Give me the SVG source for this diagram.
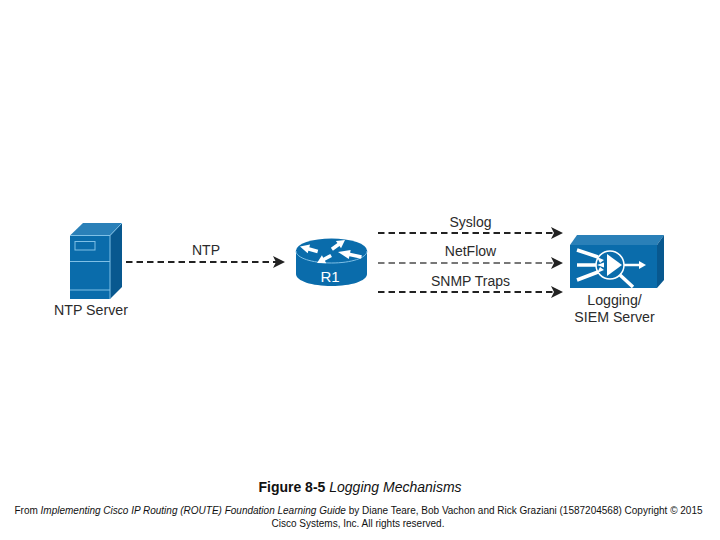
<svg xmlns="http://www.w3.org/2000/svg" width="720" height="540" viewBox="0 0 720 540">
<style>
text{font-family:"Liberation Sans",Arial,sans-serif;fill:#2b2b2b}
.lb{font-size:14px;text-anchor:middle}
.cap{font-size:10px;text-anchor:middle;fill:#111}
.d{stroke:#222;stroke-width:2;stroke-dasharray:6.5 4;fill:none}
.g{stroke:#777}
.ah{fill:#222}
.f{fill:#0a6cab}.t{fill:#2a80b8}.s{fill:#08588f}
.w{fill:#fff;stroke:none}
.wl{stroke:#fff;fill:none}
.sl{stroke:#7fc0e6;fill:none}
</style>
<defs>
<path id="ra" d="M0 0L-8-4.500V-1.800H-16V1.800H-8V4.500Z" class="w"/>
</defs>
<rect width="720" height="540" fill="#fff"/>
<g id="connectors">
<path class="d" d="M126 262H276"/><path class="ah" d="M273 256L285 262L273 268L276 262Z"/>
<path class="d" d="M378 233H554"/><path class="ah" d="M551 227L563 233L551 239L554 233Z"/>
<path class="d g" d="M378 263H554"/><path class="ah" d="M551 257L563 263L551 269L554 263Z"/>
<path class="d" d="M378 292H554"/><path class="ah" d="M551 286L563 292L551 298L554 292Z"/>
<text class="lb" x="206" y="255">NTP</text>
<text class="lb" x="470.500" y="227">Syslog</text>
<text class="lb" x="470.500" y="256">NetFlow</text>
<text class="lb" x="470.500" y="286">SNMP Traps</text>
</g>
<g id="ntp-server">
<path class="t" d="M70 235.500L83 223H122L110 235.500Z"/>
<path class="s" d="M110 235.500L122 223V287L110 299Z"/>
<rect class="f" x="70" y="235.500" width="40" height="63.500"/>
<path class="sl" d="M70 235.500H110L122 223M110 235.500V299M70 261.500H110M70 290H110" stroke-width="1"/>
<rect class="sl" x="75" y="241.500" width="20" height="8.500" stroke-width="1"/>
<text class="lb" x="91" y="315" style="font-size:14.200px">NTP Server</text>
</g>
<g id="r1">
<path class="f" d="M296 250V274C296 281 312 286 331.500 286S367 281 367 274V250Z"/>
<ellipse class="f" cx="331.500" cy="250.500" rx="35.500" ry="12"/>
<path class="sl" d="M296 251C296 258 312 263 331.500 263S367 258 367 251" stroke-width="1"/>
<use href="#ra" transform="translate(300 246.500) rotate(195.500) scale(1.150 1)"/>
<use href="#ra" transform="translate(345 240) rotate(-35)"/>
<use href="#ra" transform="translate(338 252) rotate(192) scale(1.500 1)"/>
<use href="#ra" transform="translate(317 263) rotate(152)"/>
<text x="330" y="281.500" text-anchor="middle" style="font-size:15px;fill:#fff">R1</text>
</g>
<g id="logging-siem-server">
<path class="t" d="M570 245L577 235H664L657 245Z"/>
<path class="s" d="M657 245L664 235V280L657 288Z"/>
<rect class="f" x="570" y="245" width="87" height="43"/>
<path class="wl" stroke-width="3.500" d="M577 250L598 257M577 265H597M577 280L598 272M620 275L633 287"/>
<path class="wl" stroke-width="2.500" d="M622 265H640"/>
<path class="w" d="M639 261L646 265L639 269Z"/>
<circle cx="610" cy="265" r="14" fill="#0a6cab" stroke="#fff" stroke-width="1.500"/>
<path class="w" d="M607 254L622 265L607 276Z"/>
<path class="w" d="M597 257L604 260L600 263ZM597 265L604 262.500V267.500ZM597 273L604 270L600 267Z"/>
<text class="lb" x="614.500" y="305" style="font-size:14.200px">Logging/</text>
<text class="lb" x="614.500" y="322" style="font-size:14.200px">SIEM Server</text>
</g>
<g id="caption">
<text x="360" y="492" text-anchor="middle" style="font-size:14px;fill:#111"><tspan font-weight="bold">Figure 8-5</tspan> <tspan font-style="italic">Logging Mechanisms</tspan></text>
<text class="cap" x="358.500" y="514">From <tspan font-style="italic">Implementing Cisco IP Routing (ROUTE) Foundation Learning Guide</tspan> by Diane Teare, Bob Vachon and Rick Graziani (1587204568) Copyright © 2015</text>
<text class="cap" x="358" y="527">Cisco Systems, Inc. All rights reserved.</text>
</g>
</svg>
